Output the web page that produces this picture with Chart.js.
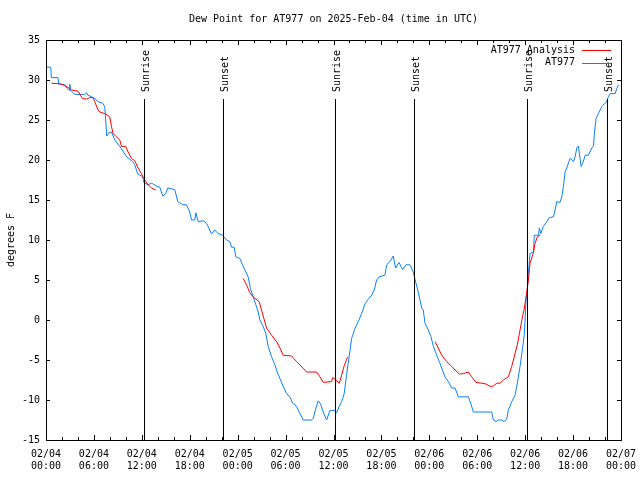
<!DOCTYPE html>
<html>
<head>
<meta charset="utf-8">
<script src="https://cdn.jsdelivr.net/npm/chart.js@4.4.1/dist/chart.umd.min.js"></script>
<style>
    html, body { margin: 0; padding: 0; background: #fff; }
    #wrap { width: 640px; height: 480px; }
</style>
</head>
<body>
<div id="wrap"><canvas id="dewChart" width="640" height="480"></canvas></div>
<script>
// Textos
const titleText = "Dew Point for AT977 on 2025-Feb-04 (time in UTC)";
const yTitle = "degrees F";

// Eje X: horas desde 02/04 00:00 UTC
const xTickDates = ["02/04", "02/04", "02/04", "02/04", "02/05", "02/05", "02/05", "02/05", "02/06", "02/06", "02/06", "02/06", "02/07"];
const xTickTimes = ["00:00", "06:00", "12:00", "18:00", "00:00", "06:00", "12:00", "18:00", "00:00", "06:00", "12:00", "18:00", "00:00"];

// Salida / puesta del sol
const sunLabels = ["Sunrise", "Sunset", "Sunrise", "Sunset", "Sunrise", "Sunset"];
const sunHours = [12.28, 22.18, 36.18, 46.12, 60.28, 70.23];

// Serie AT977 (observada)
const obsHours = [0.05, 0.59, 0.68, 1.5, 1.59, 2.34, 2.59, 2.91, 2.97, 3.1, 3.6, 4.85, 5.1, 5.23, 5.73, 6.23, 6.48, 7.11, 7.36, 7.61,
    7.86, 8.2, 8.61, 9.24, 10.11, 10.86, 11.11, 11.49, 12.12, 12.24, 12.74, 13.24, 13.87, 14.25, 14.62, 15.0, 15.25, 16.13, 16.5, 17.13,
    17.59, 18.0, 18.22, 18.63, 18.76, 19.05, 19.67, 20.1, 20.3, 20.73, 21.14, 21.55, 22.1, 22.61, 23.02, 23.23, 23.56, 23.77, 24.27, 24.61,
    24.9, 25.31, 25.61, 25.94, 26.28, 26.57, 26.78, 27.19, 27.53, 27.82, 28.25, 28.66, 28.95, 29.37, 29.7, 30.13, 30.54, 30.88, 31.38, 31.7,
    32.21, 33.26, 33.46, 33.8, 34.09, 34.39, 34.71, 35.14, 35.55, 36.18, 36.39, 36.72, 37.02, 37.34, 37.64, 37.97, 38.27, 38.68, 39.1, 39.52,
    39.94, 40.35, 40.78, 41.1, 41.4, 41.73, 42.44, 42.66, 43.07, 43.48, 43.78, 44.2, 44.66, 45.08, 45.58, 45.99, 46.2, 46.49, 46.83, 47.04,
    47.24, 47.46, 47.87, 48.21, 48.5, 48.92, 49.25, 49.55, 49.96, 50.38, 50.8, 51.22, 51.63, 52.88, 53.18, 53.51, 55.81, 56.02, 56.35, 56.64,
    57.07, 57.36, 57.69, 57.89, 58.32, 58.73, 59.02, 59.36, 59.7, 59.9, 60.11, 60.28, 60.4, 60.61, 61.03, 61.15, 61.65, 61.78, 61.95, 62.28,
    62.71, 63.03, 63.53, 63.75, 63.96, 64.37, 64.59, 64.79, 65.0, 65.21, 65.41, 65.63, 66.04, 66.25, 66.47, 66.67, 66.79, 67.01, 67.22, 67.51,
    67.92, 68.35, 68.55, 68.67, 68.88, 69.17, 69.39, 69.6, 69.89, 70.14, 70.43, 70.64, 71.27, 71.48, 71.68];
const obsDew = [31.6, 31.6, 30.3, 30.3, 29.5, 29.4, 29.0, 28.7, 29.5, 28.7, 28.2, 28.2, 28.4, 28.1, 27.9, 27.6, 27.3, 27.1, 26.6, 23.0,
    23.4, 23.5, 22.5, 21.7, 20.4, 19.8, 19.4, 18.25, 17.9, 17.2, 16.9, 17.1, 16.7, 16.6, 15.5, 15.8, 16.5, 16.3, 14.8, 14.4,
    14.4, 13.5, 12.5, 12.5, 13.4, 12.3, 12.4, 12.1, 11.7, 10.75, 11.25, 10.8, 10.6, 10.0, 9.8, 9.1, 9.1, 7.9, 7.7, 6.9,
    6.25, 5.4, 3.9, 2.9, 1.9, 1.0, 0.0, -0.8, -1.7, -3.3, -4.6, -5.6, -6.5, -7.5, -8.3, -9.2, -9.6, -10.4, -10.8, -11.5,
    -12.5, -12.5, -12.3, -11.0, -10.1, -10.5, -11.5, -12.5, -11.3, -11.3, -11.6, -10.8, -10.2, -9.2, -6.8, -4.5, -2.3, -1.1, -0.2, 0.8,
    2.0, 2.6, 3.1, 3.75, 5.0, 5.4, 5.6, 6.9, 7.3, 8.0, 6.5, 7.2, 6.3, 6.9, 6.9, 6.0, 5.1, 4.0, 2.5, 1.5,
    1.25, -0.4, -1.25, -2.1, -3.3, -4.4, -5.2, -6.0, -7.1, -7.7, -8.5, -8.5, -9.6, -9.6, -10.4, -11.5, -11.5, -12.5, -12.7, -12.5,
    -12.5, -12.7, -12.4, -11.25, -10.2, -9.4, -7.9, -5.8, -3.3, -1.7, 2.5, 3.75, 5.8, 8.3, 8.5, 10.6, 10.6, 11.5, 10.8, 11.7,
    12.3, 12.8, 12.9, 13.75, 14.8, 14.7, 15.4, 16.7, 18.5, 19.0, 19.6, 20.2, 19.8, 20.4, 21.5, 21.75, 20.8, 19.2, 19.6, 20.6,
    20.6, 21.5, 21.75, 23.3, 25.2, 25.8, 26.25, 26.7, 27.0, 27.2, 27.9, 28.3, 28.3, 28.96, 29.4];

// Serie AT977 Analysis (null = hueco entre tramos)
const anaHours = [0.68, 1.93, 2.13, 2.88, 3.18, 4.01, 4.56, 5.06, 5.48, 5.89, 6.1, 6.52, 6.73, 7.36, 7.98, 8.2, 8.4, 8.82, 9.24, 9.45,
    9.99, 10.28, 10.7, 11.12, 11.53, 11.95, 12.24, 12.49, 12.78, 13.21, 13.75, 19.0,
    24.69, 25.11, 25.53, 25.94, 26.69, 26.99, 27.62, 28.25, 28.87, 29.29, 29.7, 30.75, 31.38, 31.79, 32.63, 33.88, 34.3, 34.71, 35.76, 35.89,
    36.18, 36.72, 37.02, 37.31, 37.77, 43.0,
    48.71, 49.12, 49.55, 50.17, 50.8, 51.22, 51.75, 52.26, 52.88, 53.31, 53.85, 54.56, 55.1, 55.6, 56.02, 56.44, 56.85, 57.27, 57.89, 58.32,
    58.73, 59.02, 59.36, 59.7, 59.86, 60.11, 60.4, 60.61, 61.03, 61.24, 61.53, 61.87];
const anaDew = [29.6, 29.5, 29.4, 29.0, 28.75, 28.6, 27.7, 27.6, 27.8, 27.8, 27.3, 26.25, 26.0, 25.8, 25.4, 24.2, 23.3, 22.9, 22.5, 21.7,
    21.7, 21.0, 20.2, 19.9, 19.0, 18.3, 17.7, 17.3, 16.9, 16.5, 16.25, null,
    5.2, 4.4, 3.4, 2.9, 2.3, 1.25, -1.0, -1.9, -2.7, -3.5, -4.4, -4.5, -5.2, -5.6, -6.5, -6.5, -7.1, -7.8, -7.7, -7.2,
    -7.4, -7.9, -6.9, -5.8, -4.6, null,
    -2.7, -3.5, -4.4, -5.2, -5.8, -6.25, -6.75, -6.7, -6.5, -7.1, -7.8, -7.9, -8.0, -8.3, -8.25, -7.9, -7.9, -7.5, -7.1, -5.8,
    -4.2, -3.1, -1.25, 0.6, 1.25, 2.9, 5.0, 7.1, 8.4, 9.6, 10.4, 10.6];

const monoFont = "'DejaVu Sans Mono', 'Liberation Mono', monospace";

// Marco, marcas de eje, líneas de sol, leyenda y título
const decoPlugin = {
    id: "deco",
    afterDatasetsDraw(chart) {
        const { ctx, chartArea: a, scales } = chart;
        const xs = scales.x;
        const ys = scales.y;
        ctx.save();
        ctx.strokeStyle = "#000";
        ctx.fillStyle = "#000";
        ctx.lineWidth = 1;
        ctx.font = "10px " + monoFont;

        // líneas de salida/puesta del sol
        sunHours.forEach((h, i) => {
            const px = Math.round(xs.getPixelForValue(h)) + 0.5;
            ctx.beginPath();
            ctx.moveTo(px, a.top + 59);
            ctx.lineTo(px, a.bottom);
            ctx.stroke();
            ctx.save();
            ctx.translate(px + 2, a.top + 52);
            ctx.rotate(-Math.PI / 2);
            ctx.textAlign = "left";
            ctx.textBaseline = "middle";
            ctx.fillText(sunLabels[i], 0, 0);
            ctx.restore();
        });

        // marco
        ctx.strokeRect(Math.round(a.left) + 0.5, Math.round(a.top) + 0.5,
            Math.round(a.right - a.left), Math.round(a.bottom - a.top));

        // marcas eje X (mayores cada 6 h, menores cada 2 h)
        for (let h = 0; h <= 72; h += 2) {
            const px = Math.round(xs.getPixelForValue(h)) + 0.5;
            const len = h % 6 === 0 ? 5 : 3;
            ctx.beginPath();
            ctx.moveTo(px, a.bottom);
            ctx.lineTo(px, a.bottom - len);
            ctx.moveTo(px, a.top);
            ctx.lineTo(px, a.top + len);
            ctx.stroke();
        }
        // marcas eje Y
        ys.ticks.forEach((t) => {
            const py = Math.round(ys.getPixelForValue(t.value)) + 0.5;
            ctx.beginPath();
            ctx.moveTo(a.left, py);
            ctx.lineTo(a.left + 4, py);
            ctx.moveTo(a.right, py);
            ctx.lineTo(a.right - 4, py);
            ctx.stroke();
        });

        // leyenda
        chart.data.datasets.forEach((ds, i) => {
            const ly = a.top + 10 + i * 12.5;
            ctx.textAlign = "right";
            ctx.textBaseline = "middle";
            ctx.fillStyle = "#000";
            ctx.fillText(ds.label, a.right - 46, ly);
            ctx.strokeStyle = ds.borderColor;
            ctx.beginPath();
            ctx.moveTo(a.right - 39, Math.round(ly) + 0.5);
            ctx.lineTo(a.right - 10, Math.round(ly) + 0.5);
            ctx.stroke();
        });

        // título
        ctx.fillStyle = "#000";
        ctx.textAlign = "center";
        ctx.textBaseline = "middle";
        ctx.fillText(titleText, (a.left + a.right) / 2, 19);
        ctx.restore();
    },
};

const ctx = document.getElementById("dewChart").getContext("2d");

new Chart(ctx, {
    type: "line",
    data: {
        datasets: [
            {
                label: "AT977 Analysis",
                data: anaHours.map((h, i) => ({ x: h, y: anaDew[i] })),
                borderColor: "#ff0000",
                borderWidth: 1,
                pointRadius: 0,
                fill: false,
                spanGaps: false,
                tension: 0,
            },
            {
                label: "AT977",
                data: obsHours.map((h, i) => ({ x: h, y: obsDew[i] })),
                borderColor: "#0a80ff",
                borderWidth: 1,
                pointRadius: 0,
                fill: false,
                tension: 0,
            },
        ],
    },
    options: {
        responsive: false,
        animation: false,
        devicePixelRatio: 1,
        layout: { padding: { top: 40, right: 19, left: 0, bottom: 0 } },
        plugins: {
            legend: { display: false },
            title: { display: false },
            tooltip: { enabled: false },
        },
        scales: {
            x: {
                type: "linear",
                min: 0,
                max: 72,
                grid: { display: false, drawTicks: false },
                border: { display: false },
                ticks: {
                    stepSize: 6,
                    autoSkip: false,
                    maxRotation: 0,
                    padding: 8,
                    color: "#000",
                    font: { family: monoFont, size: 10, lineHeight: 1.25 },
                    callback: function (val) {
                        const i = Math.round(val / 6);
                        return [xTickDates[i], xTickTimes[i]];
                    },
                },
                afterFit: function (scale) {
                    scale.height = 40;
                    scale.paddingLeft = 0;
                    scale.paddingRight = 0;
                },
            },
            y: {
                min: -15,
                max: 35,
                grid: { display: false, drawTicks: false },
                border: { display: false },
                ticks: {
                    stepSize: 5,
                    padding: 6,
                    color: "#000",
                    font: { family: monoFont, size: 10 },
                },
                title: {
                    display: true,
                    text: yTitle,
                    color: "#000",
                    font: { family: monoFont, size: 10 },
                    padding: { top: 5, bottom: 0 },
                },
                afterFit: function (scale) {
                    scale.width = 46;
                    scale.paddingTop = 0;
                    scale.paddingBottom = 0;
                },
            },
        },
    },
    plugins: [decoPlugin],
});
</script>
</body>
</html>
